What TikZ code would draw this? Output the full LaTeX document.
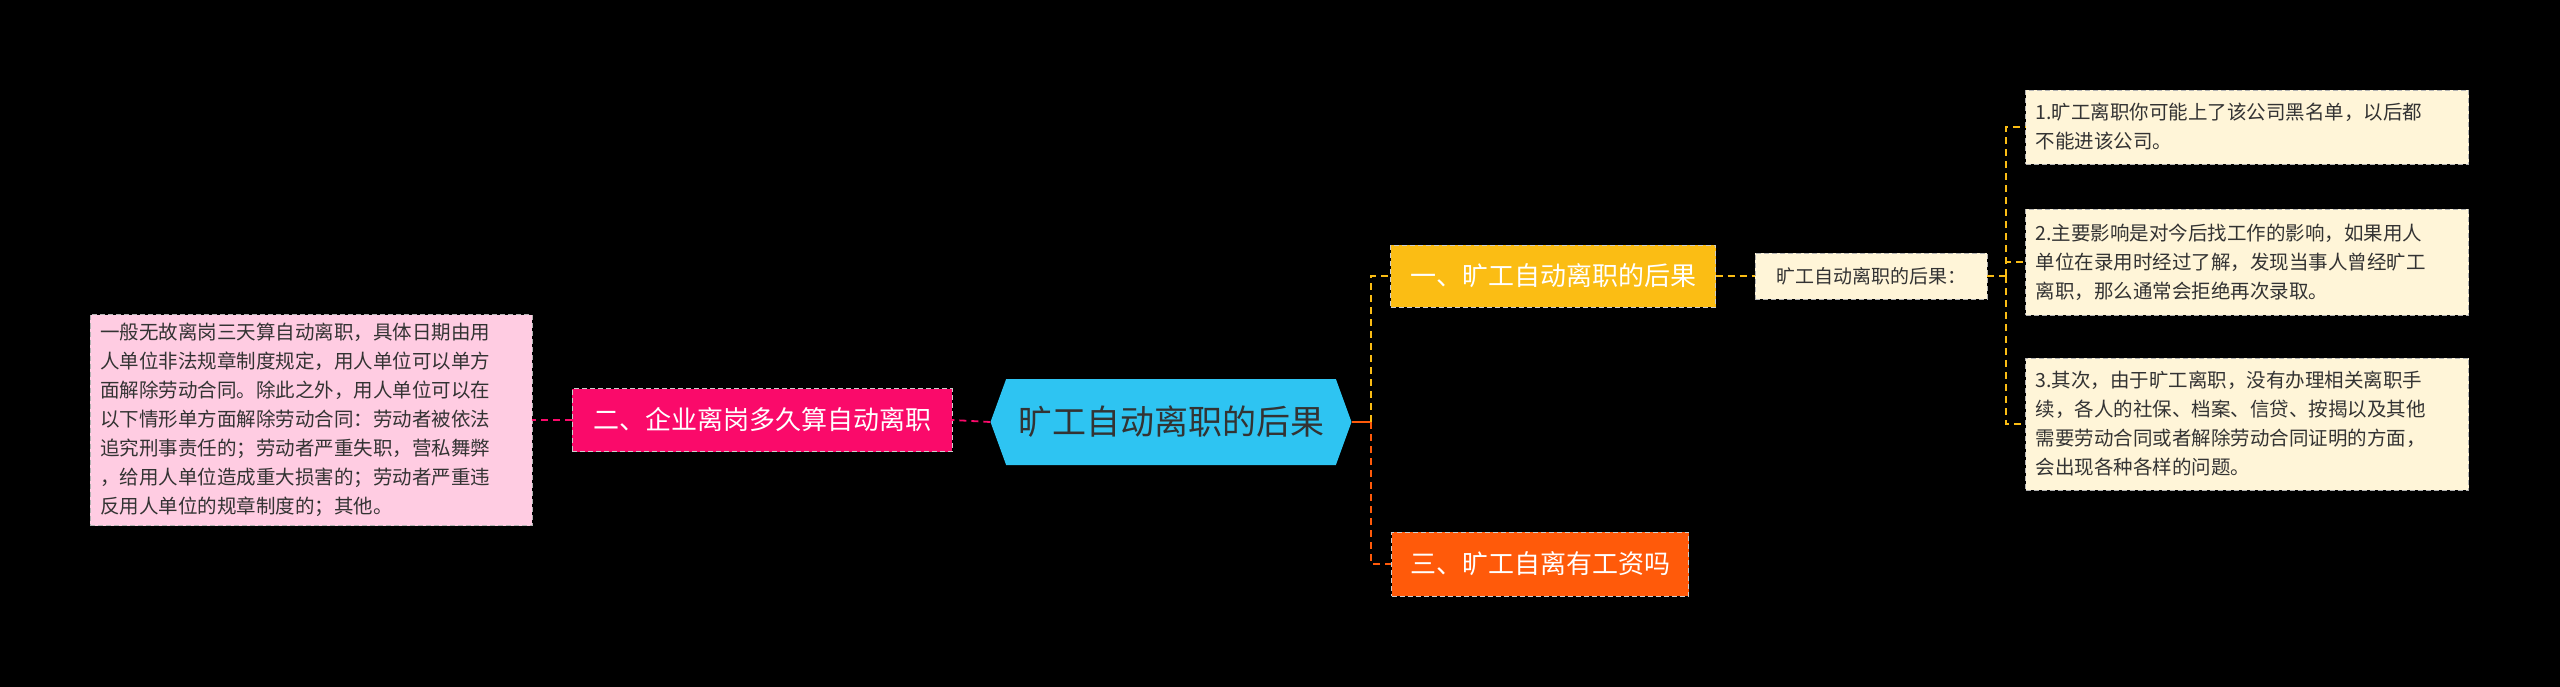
\documentclass[tikz,border=0pt]{standalone}
\usepackage{fontspec}
\setmainfont{Noto Sans CJK SC}
\usetikzlibrary{positioning, shapes.symbols}
\definecolor{hexcyan}{HTML}{2EC4F2}
\definecolor{topyellow}{HTML}{FBBD14}
\definecolor{leftpink}{HTML}{FA0A6A}
\definecolor{botorange}{HTML}{FF5A0A}
\definecolor{notecream}{HTML}{FFF5D8}
\definecolor{notepink}{HTML}{FFCCE2}
\begin{document}
\begin{tikzpicture}[x=1pt, y=-1pt,
			topic/.style={rectangle, draw=white!80!black, dash pattern=on 5pt off 3pt, inner sep=0pt, font=\fontsize{26}{30}\selectfont, text=white},
			note/.style={rectangle, draw=white!70!black, dash pattern=on 5pt off 3pt, inner xsep=10pt, inner ysep=0pt, align=left, font=\fontsize{19.5}{29}\selectfont, text=black!80},
			link/.style={dash pattern=on 7pt off 5pt, line width=1.8pt},
			]
			\fill (0,0) rectangle (2560,687);
			
			% Nodes
			\node (root) [signal, signal to=east and west, signal pointer angle=140, fill=hexcyan, minimum width=361pt, minimum height=86pt, inner sep=0pt, font=\fontsize{34}{40}\selectfont, text=black!80] at (1171,422) {旷工自动离职的后果};
			\node (two) [topic, fill=leftpink, minimum width=380pt, minimum height=63pt] at (762,420) {二、企业离岗多久算自动离职};
			\node (twonote) [note, fill=notepink, text width=422pt, minimum height=211pt] at (311,420) {一般无故离岗三天算自动离职，具体日期由用\\人单位非法规章制度规定，用人单位可以单方\\面解除劳动合同。除此之外，用人单位可以在\\以下情形单方面解除劳动合同：劳动者被依法\\追究刑事责任的；劳动者严重失职，营私舞弊\\，给用人单位造成重大损害的；劳动者严重违\\反用人单位的规章制度的；其他。};
			\node (one) [topic, fill=topyellow, minimum width=325pt, minimum height=62pt] at (1553,276) {一、旷工自动离职的后果};
			\node (onesub) [note, fill=notecream, minimum width=232pt, minimum height=46pt, align=center, font=\fontsize{19}{24}\selectfont] at (1871,276) {旷工自动离职的后果：};
			\node (noteA) [note, fill=notecream, text width=423pt, minimum height=74pt] at (2247,127) {1.旷工离职你可能上了该公司黑名单，以后都\\不能进该公司。};
			\node (noteB) [note, fill=notecream, text width=423pt, minimum height=106pt] at (2247,262) {2.主要影响是对今后找工作的影响，如果用人\\单位在录用时经过了解，发现当事人曾经旷工\\离职，那么通常会拒绝再次录取。};
			\node (noteC) [note, fill=notecream, text width=423pt, minimum height=132pt] at (2247,424) {3.其次，由于旷工离职，没有办理相关离职手\\续，各人的社保、档案、信贷、按揭以及其他\\需要劳动合同或者解除劳动合同证明的方面，\\会出现各种各样的问题。};
			\node (three) [topic, fill=botorange, minimum width=297pt, minimum height=64pt] at (1540,564) {三、旷工自离有工资吗};
			
			% Links
			\coordinate (fork) at (1371,422);
			\draw[botorange, line width=1.8pt] (root.east) -- (fork);
			\draw[link, topyellow] (fork) |- (one.west);
			\draw[link, botorange] (fork) |- (three.west);
			\draw[link, leftpink] (root.west) -- (two.east);
			\draw[link, leftpink] (two.west) -- (twonote.east);
			\draw[link, topyellow] (one.east) -- (onesub.west);
			\coordinate (subfork) at (2006,276);
			\draw[link, topyellow] (onesub.east) -- (subfork);
			\draw[link, topyellow] (subfork) |- (noteA.west);
			\draw[link, topyellow] (subfork) |- (noteB.west);
			\draw[link, topyellow] (subfork) |- (noteC.west);
		\end{tikzpicture}
\end{document}
